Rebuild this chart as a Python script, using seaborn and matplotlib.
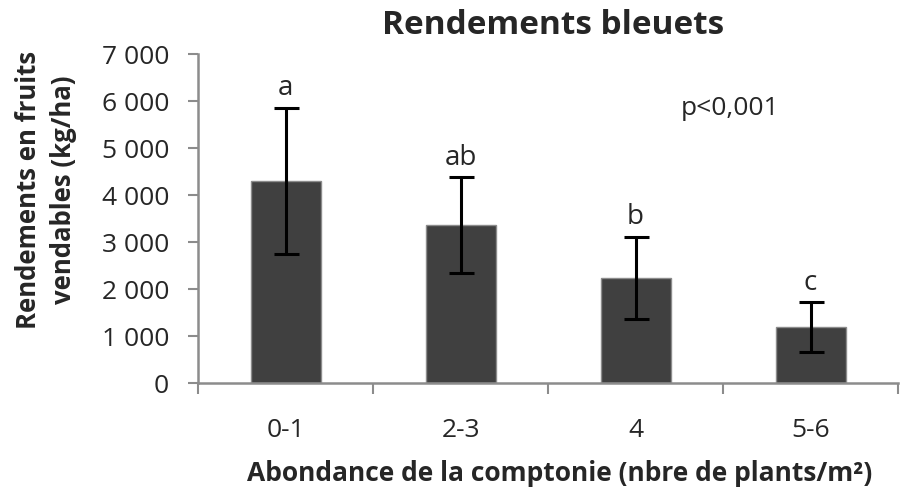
import numpy as np
import pandas as pd
import matplotlib
matplotlib.use("Agg")
import matplotlib.pyplot as plt
import seaborn as sns

# values
categories = ["0-1", "2-3", "4", "5-6"]
yields = [4300, 3360, 2240, 1190]
errors = [1560, 1020, 880, 530]
letters = ["a", "ab", "b", "c"]
y_ticks = [0, 1000, 2000, 3000, 4000, 5000, 6000, 7000]
y_tick_labels = ["0", "1 000", "2 000", "3 000", "4 000", "5 000", "6 000", "7 000"]

df = pd.DataFrame({"abondance": categories, "rendement": yields})

sns.set_style("white")
plt.rcParams["font.family"] = ["Open Sans", "DejaVu Sans"]

fig = plt.figure(figsize=(9.22, 4.92), dpi=100)
ax = fig.add_axes([0.2148, 0.221, 0.7592, 0.669])

sns.barplot(data=df, x="abondance", y="rendement", color="#404040",
            edgecolor="#8c8c8c", linewidth=1, width=0.4, saturation=1,
            errorbar=None, ax=ax)
pos = np.arange(len(categories))
ax.errorbar(pos, yields, yerr=errors, fmt="none", ecolor="black",
            elinewidth=2.2, capsize=9, capthick=2.2)

for x, y, e, lab in zip(pos, yields, errors, letters):
    ax.text(x, y + e + 120, lab, ha="center", va="bottom", fontsize=20)

ax.text(0.69, 0.835, "p<0,001", transform=ax.transAxes, ha="left",
        va="center", fontsize=19)

ax.set_ylim(0, 7000)
ax.set_xlim(-0.5, len(categories) - 0.5)
ax.set_yticks(y_ticks)
ax.set_yticklabels(y_tick_labels, fontsize=19)

# tick marks between categories, labels under the bars
ax.set_xticks(np.arange(len(categories) + 1) - 0.5)
ax.set_xticklabels([])
ax.set_xticks(pos, minor=True)
ax.set_xticklabels(categories, minor=True, fontsize=19)
ax.tick_params(axis="x", which="major", length=8, width=1.5, color="#8c8c8c",
               direction="out", bottom=True)
ax.tick_params(axis="x", which="minor", length=0, pad=25)
ax.tick_params(axis="y", length=7, width=1.5, color="#8c8c8c",
               direction="out", left=True, pad=14)

for side in ["top", "right"]:
    ax.spines[side].set_visible(False)
for side in ["left", "bottom"]:
    ax.spines[side].set_color("#8c8c8c")
    ax.spines[side].set_linewidth(1.8)

ax.set_xlabel("")
ax.set_ylabel("")

fig.text(0.60, 0.948, "Rendements bleuets", ha="center", va="center",
         fontsize=24, fontweight="bold")
fig.text(0.050, 0.614, "Rendements en fruits\nvendables (kg/ha)", rotation=90,
         ha="center", va="center", fontsize=18.5, fontweight="bold",
         multialignment="center", linespacing=1.4)
fig.text(0.607, 0.037, "Abondance de la comptonie (nbre de plants/m²)",
         ha="center", va="center", fontsize=19, fontweight="bold")

fig.savefig("out.png", dpi=100)
